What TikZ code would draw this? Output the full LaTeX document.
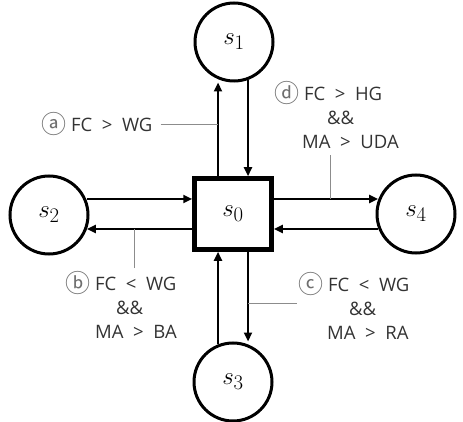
\documentclass[tikz,border=0pt]{standalone}
\usepackage{fontspec}
\setmainfont{Open Sans}
\newfontfamily\circfont{Noto Sans CJK KR}
\usetikzlibrary{arrows.meta}
\definecolor{labelfg}{HTML}{333333}
\definecolor{leadfg}{HTML}{8C8C8C}
\definecolor{circfg}{HTML}{6E6E6E}
\newcommand{\cletter}[1]{{\circfont\fontsize{25}{24}\selectfont\color{circfg}\raisebox{-1.5pt}{#1}}}

\begin{document}
\begin{tikzpicture}[x=1pt, y=-1pt,
		state/.style={circle, draw, line width=3pt, minimum size=78pt, inner sep=0pt,
				font=\fontsize{30}{32}\selectfont},
		hub/.style={rectangle, draw, line width=4.5pt, minimum width=77pt, minimum height=71pt,
				inner sep=0pt, font=\fontsize{30}{32}\selectfont},
		flow/.style={line width=2.4pt, -{Triangle[length=9pt,width=8pt]}},
		lead/.style={leadfg, line width=0.9pt},
		cond/.style={labelfg, font=\fontsize{18.5}{24}\selectfont, align=left, inner sep=0pt}]
		\useasboundingbox (0,0) rectangle (463,422);

		% states
		\node[hub] (s0) at (233,214) {$s_0$};
		\node[state] (s1) at (234,42) {$s_1$};
		\node[state] (s2) at (49,215) {$s_2$};
		\node[state] (s3) at (233,382) {$s_3$};
		\node[state] (s4) at (416,214) {$s_4$};

		% feet of the arrows on the square
		\coordinate (up) at ([xshift=-15pt]s0.north);
		\coordinate (dn) at ([xshift=15pt]s0.south);
		\coordinate (rt) at ([yshift=15pt]s0.east);
		\coordinate (lf) at ([yshift=-15pt]s0.west);

		% s0 <-> s1
		\draw[flow] (up) -- (up |- s1.south);
		\draw[flow] ([xshift=15pt]s0.north |- s1.-71) -- ([xshift=15pt]s0.north);
		% s0 <-> s3
		\draw[flow] ([xshift=-15pt]s0.south |- s3.109) -- ([xshift=-15pt]s0.south);
		\draw[flow] (dn) -- (dn |- s3.north);
		% s0 <-> s2
		\draw[flow] ([yshift=15pt]s0.west -| s2.21) -- ([yshift=15pt]s0.west);
		\draw[flow] (lf) -- (lf -| s2.-21);
		% s0 <-> s4
		\draw[flow] (rt) -- (rt -| s4.159);
		\draw[flow] ([yshift=-15pt]s0.east -| s4.-159) -- ([yshift=-15pt]s0.east);

		% conditions
		\node[cond, anchor=west] (la) at (41,124) {\cletter{ⓐ} FC~~>~~WG};
		\node[cond, anchor=north west] (ld) at (274,81)
		{\cletter{ⓓ} FC~~>~~HG\\ \hspace*{53pt}\&\&\\ \hspace*{28pt}MA~~>~~UDA};
		\node[cond, anchor=north west] (lb) at (65,271)
		{\cletter{ⓑ} FC~~<~~WG\\ \hspace*{51pt}\&\&\\ \hspace*{30pt}MA~~>~~BA};
		\node[cond, anchor=north west] (lc) at (298,272)
		{\cletter{ⓒ} FC~~<~~WG\\ \hspace*{51pt}\&\&\\ \hspace*{29pt}MA~~>~~RA};

		% leader lines to the arrows
		\draw[lead] ([xshift=8pt]la.east) -- (la.east -| up);
		\draw[lead] ([xshift=56pt,yshift=-6pt]ld.south west) -- ([xshift=56pt]ld.south west |- rt);
		\draw[lead] ([xshift=69pt,yshift=3pt]lb.north west) -- ([xshift=69pt]lb.north west |- lf);
		\draw[lead] ([yshift=-31pt]lc.north west -| dn) -- ([yshift=-31pt,xshift=-1pt]lc.north west);
	\end{tikzpicture}
\end{document}
